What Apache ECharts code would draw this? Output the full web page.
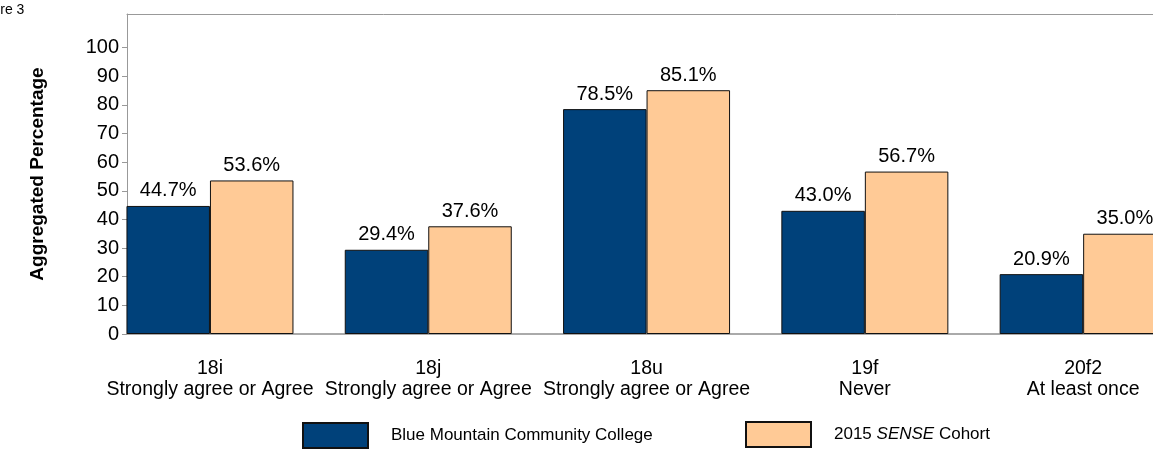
<!DOCTYPE html>
<html>
<head>
<meta charset="utf-8">
<script src="https://cdn.jsdelivr.net/npm/echarts@6/dist/echarts.min.js"></script>
<style>html,body{margin:0;padding:0;background:#fff}#c{width:1153px;height:450px}</style>
</head>
<body>
<div id="c"></div>
<script>
var categories = ['18i\nStrongly agree or Agree', '18j\nStrongly agree or Agree', '18u\nStrongly agree or Agree', '19f\nNever', '20f2\nAt least once'];
var collegeValues = [44.7, 29.4, 78.5, 43.0, 20.9];
var cohortValues = [53.6, 37.6, 85.1, 56.7, 35.0];
var yTicks = [0, 10, 20, 30, 40, 50, 60, 70, 80, 90, 100];
var seriesNames = ['Blue Mountain Community College', '2015 SENSE Cohort'];

var FONT = 'Liberation Sans, Arial, sans-serif';
function toPoints(arr) { return arr.map(function (v, i) { return [i, v]; }); }
var chart = echarts.init(document.getElementById('c'));
var labelCfg = {
  show: true, position: 'top', distance: 5, color: '#000', fontSize: 20, fontFamily: FONT,
  formatter: function (p) { return p.value[1].toFixed(1) + '%'; }
};
chart.setOption({
  animation: false,
  textStyle: { fontFamily: FONT },
  grid: { left: 127, right: 0, top: 14, bottom: 116, show: false, containLabel: false },
  graphic: [{ type: 'text', x: -27, y: 3, style: { text: 'Figure 3', font: '14px ' + FONT, fill: '#000' } }],
  legend: [
    { data: [seriesNames[0]], left: 302, top: 422, padding: 0, itemWidth: 65, itemHeight: 25, icon: 'rect',
      textStyle: { fontSize: 17, color: '#000', padding: [0, 0, 0, 18] } },
    { data: [seriesNames[1]], left: 745, top: 421, padding: 0, itemWidth: 65, itemHeight: 25, icon: 'rect',
      formatter: function () { return '2015 {i|SENSE} Cohort'; },
      textStyle: { fontSize: 17, color: '#000', padding: [0, 0, 0, 18], rich: { i: { fontStyle: 'italic', fontSize: 17, color: '#000' } } } }
  ],
  xAxis: [{
    type: 'value', min: -0.38, max: 4.32,
    splitLine: { show: false },
    axisTick: { show: false },
    axisLine: { show: true, onZero: false, lineStyle: { color: '#aaa', width: 2 } },
    axisLabel: {
      customValues: [0, 1, 2, 3, 4],
      formatter: function (v) { return categories[Math.round(v)] || ''; },
      color: '#000', fontSize: 19.5, lineHeight: 21, margin: 24, fontFamily: FONT
    }
  }, {
    type: 'value', position: 'top', min: -0.38, max: 4.32,
    splitLine: { show: false }, axisTick: { show: false }, axisLabel: { show: false },
    axisLine: { show: true, onZero: false, lineStyle: { color: '#999', width: 1 } }
  }],
  yAxis: {
    type: 'value', min: 0, max: 111.7,
    name: 'Aggregated Percentage', nameLocation: 'middle', nameGap: 80,
    nameTextStyle: { fontSize: 19, fontWeight: 'bold', color: '#000', fontFamily: FONT },
    splitLine: { show: false },
    axisLine: { show: true, onZero: false, lineStyle: { color: '#999', width: 1 } },
    axisTick: { show: true, length: 5, customValues: yTicks, lineStyle: { color: '#999' } },
    axisLabel: { customValues: yTicks, color: '#000', fontSize: 20, margin: 8, fontFamily: FONT }
  },
  series: [
    { name: seriesNames[0], type: 'bar', data: toPoints(collegeValues), barWidth: 83.5, barGap: '0%',
      itemStyle: { color: '#00417A', borderColor: '#111', borderWidth: 1 }, label: labelCfg },
    { name: seriesNames[1], type: 'bar', data: toPoints(cohortValues), barWidth: 83.5, barGap: '0%',
      itemStyle: { color: '#FFCA96', borderColor: '#111', borderWidth: 1 }, label: labelCfg }
  ]
});
</script>
</body>
</html>
